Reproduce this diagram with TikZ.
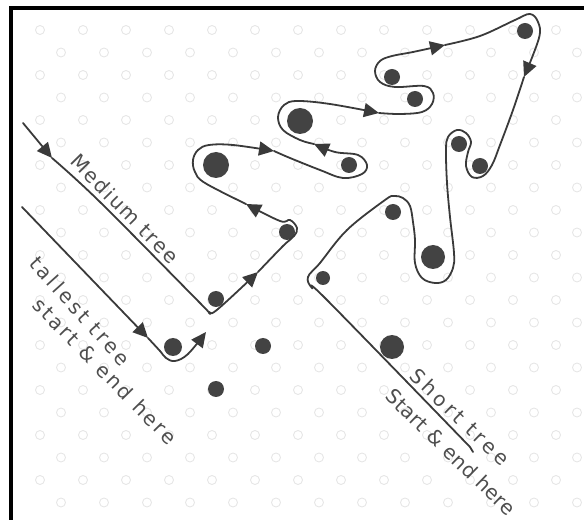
\documentclass[tikz,border=0pt]{standalone}
\usepackage{fontspec}
\newfontfamily\handfont{DejaVu Sans}
\usetikzlibrary{arrows.meta}
\definecolor{inkgray}{HTML}{3A3A3A}
\definecolor{dotgray}{HTML}{434343}
\definecolor{textgray}{HTML}{4E4E4E}
\definecolor{ringgray}{HTML}{E6E6E6}

\begin{document}
\begin{tikzpicture}[x=1pt, y=1pt,
  trail/.style={draw=inkgray, line width=1.8pt, line cap=round, line join=round},
  arr/.style={-{Triangle[length=15pt, width=14pt]}},
  treedot/.style={circle, fill=dotgray, inner sep=0pt, minimum size=#1},
  treedot/.default=16pt,
  lbl/.style={font=\handfont\fontsize{20}{22}\selectfont\addfontfeatures{LetterSpace=#1}, text=textgray, inner sep=0pt},
  lbl/.default=0,
  ring/.style={draw=ringgray, line width=0.9pt},
]
  \useasboundingbox (0,0) rectangle (584,520);

  % faint dotted paper
  \foreach \r [evaluate=\r as \off using {mod(\r,2)*21}] in {0,...,21}
    \foreach \c in {0,...,12}
      \draw[ring] ({40+43*\c+\off},{490-22.5*\r}) circle[radius=4.5];

  % frame
  \draw[line width=3.5pt] (584,512) -- (11,512) -- (11,0);

  % trees
  \node[treedot=26pt] (t1) at (216,355) {};
  \node[treedot=26pt] (t2) at (300,399) {};
  \node[treedot] (t3) at (349,355) {};
  \node[treedot] (t4) at (287,288) {};
  \node[treedot] (t5) at (216,221) {};
  \node[treedot=18pt] (t6) at (173,173) {};
  \node[treedot] (t7) at (263,174) {};
  \node[treedot] (t8) at (216,131) {};
  \node[treedot] (t9) at (392,443) {};
  \node[treedot] (t10) at (415,421) {};
  \node[treedot] (t11) at (525,489) {};
  \node[treedot] (t12) at (459,376) {};
  \node[treedot] (t13) at (480,354) {};
  \node[treedot] (t14) at (393,308) {};
  \node[treedot=24pt] (t15) at (433,263) {};
  \node[treedot=14pt] (t16) at (323,242) {};
  \node[treedot=24pt] (t17) at (392,173) {};

  % medium tree route
  \draw[trail, arr] (23,397) -- (52,362);
  \draw[trail, arr] plot[smooth, tension=0.6] coordinates {(52,362) (100,318) (200,217) (209,208) (218,211) (258,248)};
  \draw[trail, arr] plot[smooth, tension=0.6] coordinates {(258,248) (283,274) (294,284) (297,292) (290,300) (280,299) (246,316)};
  \draw[trail, arr] plot[smooth, tension=0.6] coordinates {(246,316) (205,337) (195,348) (193,360) (198,370) (209,375) (233,375) (274,369)};
  \draw[trail, arr] plot[smooth, tension=0.6] coordinates {(274,369) (290,362) (320,350) (343,342) (362,346) (367,355) (358,365) (335,368) (314,376)};
  \draw[trail, arr] plot[smooth, tension=0.6] coordinates {(314,376) (300,380) (283,390) (278,403) (284,415) (297,419) (330,416) (379,407)};
  \draw[trail, arr] plot[smooth, tension=0.6] coordinates {(379,407) (400,406) (422,408) (432,416) (433,427) (424,434) (395,433) (380,438) (375,449) (380,459) (392,464) (413,468) (445,475)};
  \draw[trail, arr] plot[smooth, tension=0.6] coordinates {(445,475) (480,484) (515,500) (530,506) (538,498) (539,482) (524,443)};
  \draw[trail] plot[smooth, tension=0.6] coordinates {(524,443) (513,410) (500,375) (492,355) (483,344) (472,343) (466,354) (468,368) (471,378) (466,387) (457,390) (448,383) (446,370) (447,337) (450,303) (454,267) (453,252) (446,240) (435,237) (422,242) (415,257) (415,280) (413,298) (410,314) (403,322) (394,324) (385,320) (347,290) (320,257) (308,243) (312,232) (327,220) (470,73)} -- (473,68);

  % tallest tree start
  \draw[trail, arr] (22,313) -- (148,182);
  \draw[trail, arr] plot[smooth, tension=0.6] coordinates {(148,182) (160,169) (166,162) (175,159) (188,166) (206,188)};

  % labels
  \node[lbl=10, rotate=-45.5] (medlbl) at (125,311) {Medium tree};
  \node[lbl=15, rotate=-48] (talllbl) at (80,209) {tallest tree};
  \node[lbl=13, rotate=-45.5] (tallend) at (105,149) {start \& end here};
  \node[lbl=18, rotate=-44] (shortlbl) at (460,103) {Short tree};
  \node[lbl=2, rotate=-44] (shortend) at (451,68) {Start \& end here};
\end{tikzpicture}
\end{document}
